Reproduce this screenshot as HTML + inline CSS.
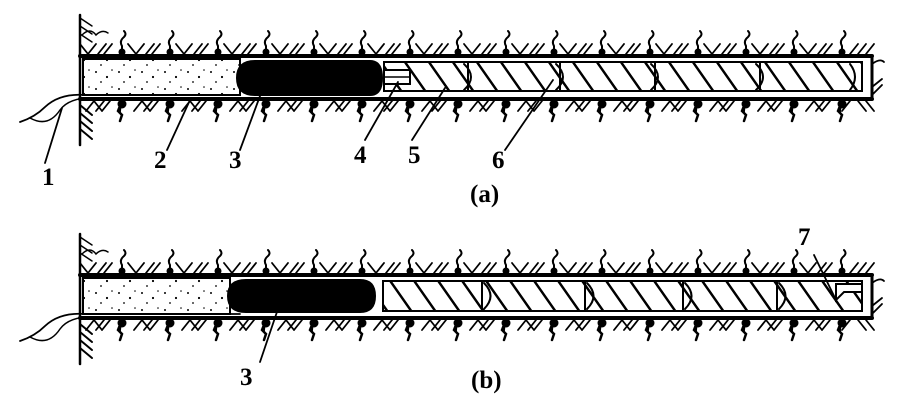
<!DOCTYPE html>
<html><head><meta charset="utf-8"><style>
html,body{margin:0;padding:0;background:#fff;width:905px;height:404px;overflow:hidden}
svg{display:block}
text{font-family:"Liberation Serif",serif;font-size:25px;font-weight:bold;fill:#000}
</style></head><body>
<svg id="s" width="905" height="404" viewBox="0 0 905 404" xmlns="http://www.w3.org/2000/svg">
<defs>
<pattern id="h" width="24" height="40" patternUnits="userSpaceOnUse" patternTransform="skewX(35)">
<rect width="24" height="40" fill="#fff"/><rect x="0" y="0" width="3" height="40" fill="#000"/>
</pattern>
<pattern id="dots" width="23" height="17" patternUnits="userSpaceOnUse">
<rect width="23" height="17" fill="#fff"/>
<circle cx="4" cy="4" r="1" fill="#000"/><circle cx="15" cy="9" r="1.1" fill="#000"/><circle cx="9" cy="14" r="0.9" fill="#000"/><circle cx="20" cy="2" r="0.8" fill="#000"/>
</pattern>
</defs>
<g id="g" stroke="#000" fill="none" stroke-linecap="round"></g>
<text x="42" y="185">1</text>
<text x="154" y="168">2</text>
<text x="229" y="168">3</text>
<text x="354" y="163">4</text>
<text x="408" y="163">5</text>
<text x="492" y="168">6</text>
<text x="470" y="202">(a)</text>
<text x="240" y="385">3</text>
<text x="471" y="388">(b)</text>
<text x="798" y="245">7</text>
</svg>
<script>
var g=document.getElementById('g'),out='';
function L(x1,y1,x2,y2,w){out+='<line x1="'+x1+'" y1="'+y1+'" x2="'+x2+'" y2="'+y2+'" stroke-width="'+(w||2)+'"/>';}
function P(d,w,f){out+='<path d="'+d+'" stroke-width="'+(w||2)+'" fill="'+(f||'none')+'"/>';}
function R(x,y,w,h,f,sw){out+='<rect x="'+x+'" y="'+y+'" width="'+w+'" height="'+h+'" fill="'+f+'" stroke-width="'+(sw||2)+'"/>';}
function panel(o){
 var top=o+56,bot=o+99;
 L(80,o+15,80,o+145,2.5);
 P('M80 '+(o+18)+' l12 8 M80 '+(o+26)+' l12 8 M80 '+(o+34)+' l12 8',1.5);
 P('M82 '+(o+35)+' q8 -8 14 0 q6 -6 12 -2',1.5);
 for(var i=0;i<4;i++)L(80,o+105+i*8,92,o+115+i*8,2);
 L(80,top,872,top,4);L(80,bot,872,bot,4);L(872,top,872,bot,3);
 for(var x=88;x<840;x+=48){
  P('M'+x+' '+(top-2)+' l-8 -10 M'+x+' '+(top-2)+' l8 -10 M'+(x+10)+' '+(top-2)+' l8 -10 M'+(x+16)+' '+(top-2)+' l8 -10',1.8);
  P('M'+(x+34)+' '+(top-2)+' l0 -8 q-3 -5 2 -9 q3 -3 0 -6',2);
  out+='<circle cx="'+(x+34)+'" cy="'+(top-4)+'" r="3" fill="#000"/>';
  P('M'+(x+6)+' '+(bot+2)+' l-8 10 M'+(x+6)+' '+(bot+2)+' l8 10 M'+(x+16)+' '+(bot+2)+' l-8 10 M'+(x+22)+' '+(bot+2)+' l-8 10',1.8);
  P('M'+(x+34)+' '+(bot+2)+' l-4 10 l4 4 l-2 6',2.5,'#000');
  out+='<circle cx="'+(x+34)+'" cy="'+(bot+5)+'" r="4" fill="#000"/>';
 }
 P('M850 '+(top-2)+' l8 -10 M858 '+(top-2)+' l8 -10 M866 '+(top-2)+' l8 -10',1.8);
 P('M850 '+(bot+2)+' l-8 10 M858 '+(bot+2)+' l8 10 M866 '+(bot+2)+' l8 10',1.8);
 P('M872 '+(top+8)+' q8 -6 12 -2 M872 '+(bot-12)+' l10 -8 M872 '+(bot-4)+' l10 -10',1.8);
 P('M20 '+(o+122)+' q15 -5 25 -15 q15 -14 40 -12 L240 '+(bot-4),1.8);
 P('M30 '+(o+118)+' q18 10 30 -8 q10 -14 40 -12',1.5);
}
panel(0);
R(83,59,157,36,'url(#dots)',0);
P('M255 61 L370 61 Q382 61 382 78 Q382 95 370 95 L255 95 Q237 95 237 78 Q237 61 255 61 Z',2,'#000');
R(384,62,478,29,'url(#h)',2);
R(384,70,26,14,'#fff',2);L(384,77,410,77,1.5);
[468,560,655,760].forEach(function(x){L(x,62,x,91,2);P('M'+(x-4)+' 64 q14 13 0 26',2);});
P('M850 64 q10 13 0 26',2);
var o=219;
panel(o);
R(83,o+59,147,36,'url(#dots)',0);
P('M246 280 L360 280 Q375 280 375 296 Q375 312 360 312 L246 312 Q228 312 228 296 Q228 280 246 280 Z',2,'#000');
R(383,281,479,30,'url(#h)',2);
[482,585,683,777].forEach(function(x){L(x,281,x,311,2);P('M'+(x+2)+' 283 q13 13 0 26',2);});
P('M836 284 L862 284 L862 292 L844 292 L836 300 Z',2,'#fff');
L(45,163,62,108,1.8);L(167,150,190,100,1.8);L(240,150,260,96,1.8);
L(365,140,398,82,1.8);L(412,140,445,88,1.8);L(505,150,553,80,1.8);
L(260,362,280,303,1.8);L(814,255,836,300,1.8);
g.innerHTML=out;
</script>
</body></html>
